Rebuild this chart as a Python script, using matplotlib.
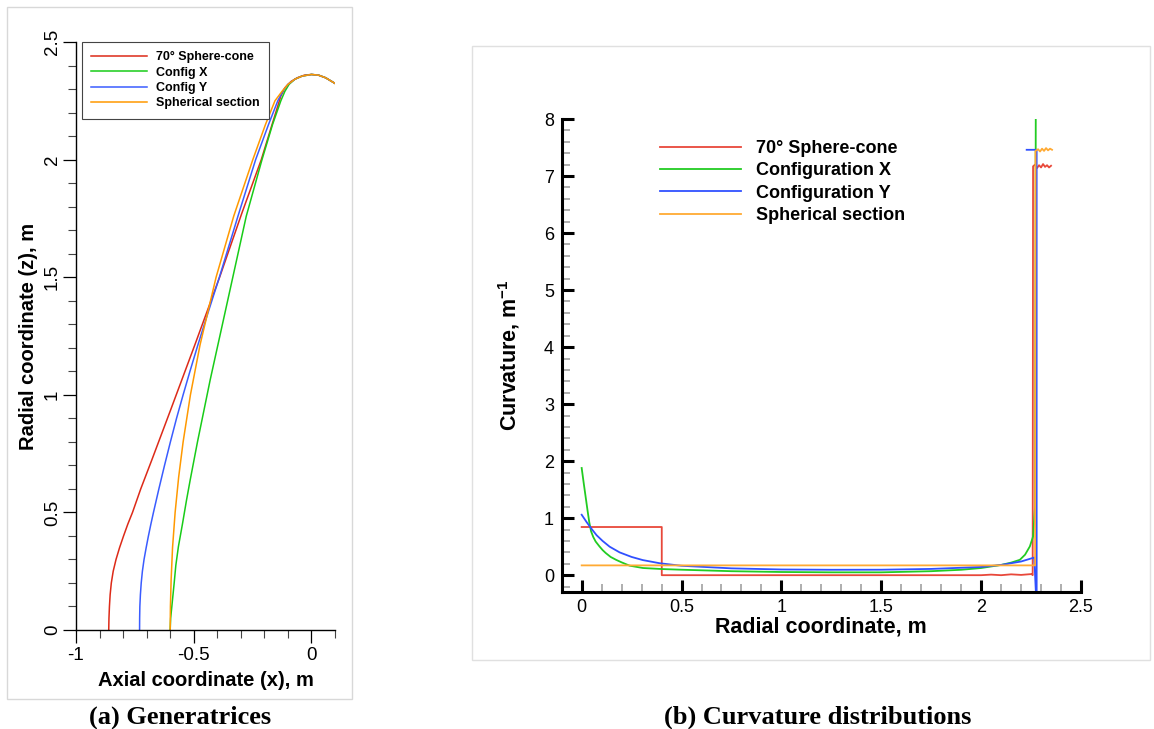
import matplotlib
matplotlib.use('Agg')
import matplotlib.pyplot as plt
from matplotlib.patches import Rectangle
from matplotlib.ticker import MultipleLocator

plt.rcParams['font.family'] = ['Liberation Sans', 'DejaVu Sans']
plt.rcParams['mathtext.fontset'] = 'custom'
plt.rcParams['mathtext.bf'] = 'Liberation Sans:bold'
plt.rcParams['mathtext.rm'] = 'Liberation Sans:bold'

# ---- (a) generatrices: axial x vs radial z ----
cone_x = [-0.861, -0.860, -0.858, -0.855, -0.850, -0.842, -0.830, -0.815, -0.798, -0.780,
          -0.760, -0.725, -0.678, -0.598, -0.495, -0.390, -0.295, -0.213, -0.167, -0.130,
          -0.113, -0.087, -0.060, -0.030, 0.000, 0.030, 0.060, 0.100]
cone_z = [0.000, 0.050, 0.100, 0.150, 0.200, 0.250, 0.300, 0.350, 0.400, 0.450,
          0.500, 0.600, 0.723, 0.936, 1.213, 1.500, 1.774, 2.000, 2.150, 2.270,
          2.305, 2.332, 2.348, 2.359, 2.362, 2.359, 2.348, 2.324]

cfgx_x = [-0.600, -0.598, -0.593, -0.588, -0.583, -0.576, -0.565, -0.548, -0.531, -0.515,
          -0.484, -0.430, -0.378, -0.334, -0.277, -0.210, -0.165, -0.130, -0.113, -0.095,
          -0.070, -0.040, 0.000, 0.030, 0.060, 0.100]
cfgx_z = [0.000, 0.050, 0.100, 0.150, 0.200, 0.275, 0.355, 0.450, 0.550, 0.638,
          0.800, 1.064, 1.300, 1.500, 1.759, 2.000, 2.150, 2.250, 2.290, 2.320,
          2.342, 2.355, 2.362, 2.359, 2.348, 2.324]

cfgy_x = [-0.730, -0.7297, -0.7288, -0.7265, -0.723, -0.718, -0.711, -0.702, -0.693, -0.682,
          -0.671, -0.648, -0.624, -0.599, -0.573, -0.545, -0.516, -0.482, -0.439, -0.391,
          -0.312, -0.237, -0.182, -0.143, -0.120, -0.100, -0.070, -0.040, 0.000, 0.030,
          0.060, 0.100]
cfgy_z = [0.000, 0.050, 0.100, 0.150, 0.200, 0.250, 0.300, 0.350, 0.397, 0.450,
          0.500, 0.600, 0.700, 0.800, 0.900, 1.000, 1.100, 1.213, 1.350, 1.500,
          1.760, 2.000, 2.150, 2.250, 2.294, 2.320, 2.342, 2.355, 2.362, 2.359,
          2.348, 2.324]

sph_x = [-0.600, -0.599, -0.596, -0.590, -0.579, -0.564, -0.545, -0.514, -0.473, -0.405,
         -0.330, -0.249, -0.195, -0.155, -0.125, -0.100, -0.070, -0.040, 0.000, 0.030,
         0.060, 0.100]
sph_z = [0.000, 0.100, 0.213, 0.350, 0.500, 0.650, 0.800, 1.000, 1.213, 1.500,
         1.760, 2.000, 2.150, 2.250, 2.290, 2.320, 2.342, 2.355, 2.362, 2.359,
         2.348, 2.324]

# ---- (b) curvature vs radial coordinate ----
cone_r = [0.000, 0.401, 0.401, 2.000, 2.050, 2.100, 2.150, 2.200, 2.253, 2.258,
          2.260, 2.270, 2.280, 2.290, 2.300, 2.310, 2.320, 2.330, 2.340, 2.350]
cone_k = [0.845, 0.845, 0.000, 0.000, 0.010, 0.000, 0.015, 0.005, 0.020, 0.000,
          7.170, 7.200, 7.140, 7.190, 7.150, 7.210, 7.160, 7.190, 7.150, 7.180]

cfgx_r = [0.000, 0.005, 0.010, 0.016, 0.022, 0.030, 0.038, 0.047, 0.058, 0.070,
          0.089, 0.105, 0.120, 0.145, 0.172, 0.200, 0.240, 0.307, 0.400, 0.500,
          0.750, 1.000, 1.250, 1.500, 1.750, 1.900, 2.000, 2.100, 2.150, 2.194,
          2.220, 2.244, 2.260, 2.270, 2.274]
cfgx_k = [1.880, 1.750, 1.620, 1.470, 1.320, 1.120, 0.930, 0.770, 0.670, 0.590,
          0.505, 0.440, 0.390, 0.320, 0.270, 0.225, 0.167, 0.126, 0.108, 0.096,
          0.070, 0.056, 0.050, 0.050, 0.070, 0.095, 0.126, 0.180, 0.220, 0.270,
          0.360, 0.505, 0.680, 1.200, 9.000]

cfgy_r = [0.000, 0.025, 0.050, 0.075, 0.105, 0.140, 0.190, 0.250, 0.306, 0.390,
          0.500, 0.750, 1.000, 1.250, 1.500, 1.750, 2.000, 2.100, 2.200, 2.266,
          2.278, 2.278, 2.228]
cfgy_k = [1.060, 0.930, 0.810, 0.700, 0.600, 0.500, 0.400, 0.320, 0.265, 0.210,
          0.165, 0.120, 0.100, 0.095, 0.096, 0.110, 0.144, 0.180, 0.240, 0.310,
          -0.600, 7.460, 7.460]

sph_r = [0.000, 2.270, 2.272, 2.285, 2.295, 2.305, 2.315, 2.325, 2.335, 2.345, 2.355]
sph_k = [0.172, 0.172, 7.440, 7.470, 7.430, 7.480, 7.440, 7.490, 7.450, 7.480, 7.460]

names_a = ['70° Sphere-cone', 'Config X', 'Config Y', 'Spherical section']
names_b = ['70° Sphere-cone', 'Configuration X', 'Configuration Y', 'Spherical section']

xticks_a = [-1, -0.5, 0]
yticks_a = [0, 0.5, 1, 1.5, 2, 2.5]
xticks_b = [0, 0.5, 1, 1.5, 2, 2.5]
yticks_b = [0, 1, 2, 3, 4, 5, 6, 7, 8]

cols_a = ['#dd2a18', '#18cc18', '#3a5cff', '#ff9900']
cols_b = ['#e8483a', '#22cc22', '#3050ff', '#ffaa33']

W, H = 1154, 729
fig = plt.figure(figsize=(W / 100, H / 100), dpi=100)

# panel frames
fig.add_artist(Rectangle((7.3 / W, 1 - 699.3 / H), 345 / W, 692.6 / H,
                         transform=fig.transFigure, fill=False, edgecolor='#d8d8d8', lw=1))
fig.add_artist(Rectangle((472 / W, 1 - 660 / H), 678 / W, 614 / H,
                         transform=fig.transFigure, fill=False, edgecolor='#e0e0e0', lw=1))

# ---- panel (a) ----
ax1 = fig.add_axes([76 / W, (H - 630) / H, 259 / W, 588 / H])
for xs, zs, c, n in zip([cone_x, cfgx_x, cfgy_x, sph_x], [cone_z, cfgx_z, cfgy_z, sph_z],
                        cols_a, names_a):
    ax1.plot(xs, zs, color=c, lw=1.1, label=n)
ax1.set_xlim(-1, 0.1)
ax1.set_ylim(0, 2.5)
ax1.spines['top'].set_visible(False)
ax1.spines['right'].set_visible(False)
for s in ['left', 'bottom']:
    ax1.spines[s].set_linewidth(1.0)
ax1.set_xticks(xticks_a)
ax1.set_xticklabels(['%g' % v for v in xticks_a])
ax1.set_yticks(yticks_a)
ax1.set_yticklabels(['%g' % v for v in yticks_a], rotation=90, va='center')
ax1.xaxis.set_minor_locator(MultipleLocator(0.1))
ax1.yaxis.set_minor_locator(MultipleLocator(0.1))
ax1.tick_params(which='major', direction='out', length=9.4, width=0.9, labelsize=13.5)
ax1.tick_params(axis='x', which='major', pad=3.0)
ax1.tick_params(axis='y', which='major', pad=1.5)
ax1.tick_params(which='minor', direction='out', length=5.5, width=0.8, color='#444444')
ax1.set_xlabel('Axial coordinate (x), m', fontsize=14.5, fontweight='bold')
ax1.xaxis.set_label_coords(0.5, (630 - 671) / 588)
ax1.set_ylabel('Radial coordinate (z), m', fontsize=14.5, fontweight='bold')
ax1.yaxis.set_label_coords((38 - 76) / 259, 0.5)
leg1 = ax1.legend(loc='upper left', bbox_to_anchor=(0.022, 1.0), borderaxespad=0,
                  prop={'size': 9, 'weight': 'bold'}, frameon=True, fancybox=False,
                  edgecolor='#444444', framealpha=1, handlelength=4.45,
                  handletextpad=0.74, labelspacing=0.26, borderpad=0.75)
leg1.get_frame().set_linewidth(0.8)

# ---- panel (b) ----
ax2 = fig.add_axes([561.7 / W, (H - 592.3) / H, 519.3 / W, 473.3 / H])
for rs, ks, c, n in zip([cone_r, cfgx_r, cfgy_r, sph_r], [cone_k, cfgx_k, cfgy_k, sph_k],
                        cols_b, names_b):
    ax2.plot(rs, ks, color=c, lw=1.3, label=n)
ax2.set_xlim(-0.1, 2.5)
ax2.set_ylim(-0.3, 8)
ax2.spines['top'].set_visible(False)
ax2.spines['right'].set_visible(False)
for s in ['left', 'bottom']:
    ax2.spines[s].set_linewidth(2.2)
ax2.set_xticks(xticks_b)
ax2.set_xticklabels(['%g' % v for v in xticks_b])
ax2.set_yticks(yticks_b)
ax2.set_yticklabels(['%g' % v for v in yticks_b])
ax2.xaxis.set_minor_locator(MultipleLocator(0.1))
ax2.yaxis.set_minor_locator(MultipleLocator(0.2))
ax2.tick_params(which='major', direction='in', length=8.6, width=2.2, labelsize=13)
ax2.tick_params(axis='x', which='major', pad=4.5)
ax2.tick_params(axis='y', which='major', pad=5.5)
ax2.tick_params(which='minor', direction='in', length=5.8, width=1.1, color='#999999')
ax2.set_xlabel('Radial coordinate, m', fontsize=15.5, fontweight='bold')
ax2.xaxis.set_label_coords(0.5, (592.3 - 616) / 473.3)
ax2.set_ylabel(r'Curvature, m$^{\mathbf{-1}}$', fontsize=15.5, fontweight='bold')
ax2.yaxis.set_label_coords((522 - 561.7) / 519.3, 0.5)
ax2.legend(loc='upper left', bbox_to_anchor=(0.189, 0.956), frameon=False,
           prop={'size': 13, 'weight': 'bold'}, handlelength=4.5, handletextpad=0.83,
           labelspacing=0.3, borderpad=0, borderaxespad=0)

# captions
fig.text(180 / W, 1 - 717 / H, '(a) Generatrices', family='Liberation Serif',
         weight='bold', size=19, ha='center', va='center')
fig.text(818 / W, 1 - 717 / H, '(b) Curvature distributions', family='Liberation Serif',
         weight='bold', size=19, ha='center', va='center')

fig.savefig('out.png', dpi=100)
